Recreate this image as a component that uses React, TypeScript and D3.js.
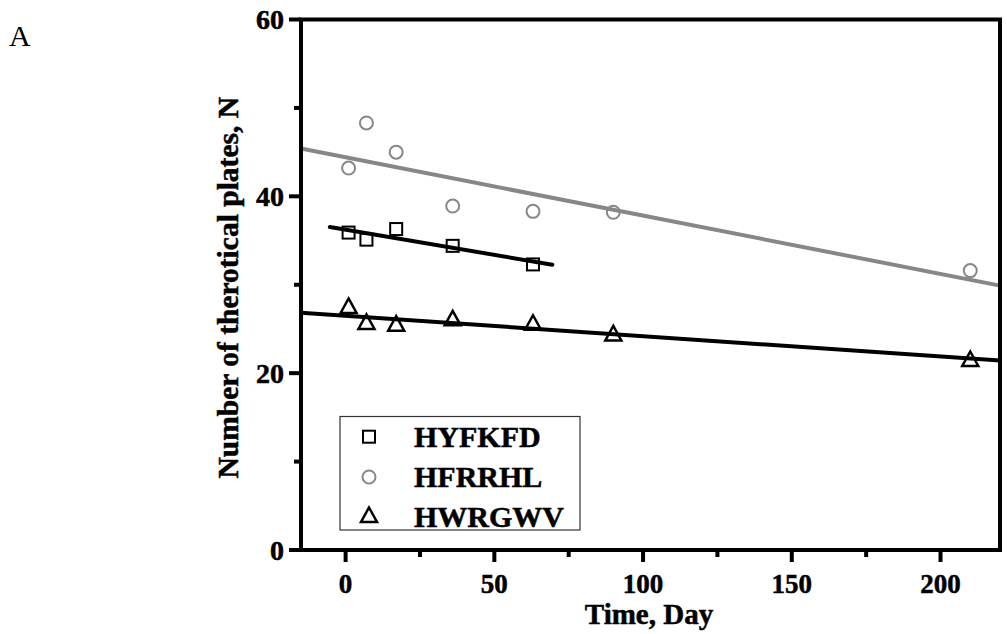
import React from "react";
import * as d3 from "d3";

// Data
const daysHYFKFD = [1, 7, 17, 36, 63];
const valuesHYFKFD = [35.9, 35.1, 36.3, 34.4, 32.3];
const daysHFRRHL = [1, 7, 17, 36, 63, 90, 210];
const valuesHFRRHL = [43.2, 48.3, 45.0, 38.9, 38.3, 38.2, 31.6];
const daysHWRGWV = [1, 7, 17, 36, 63, 90, 210];
const valuesHWRGWV = [27.6, 25.8, 25.6, 26.2, 25.7, 24.5, 21.6];

// Fitted trend lines (endpoints [day, value])
const fitHYFKFD: [number, number][] = [[-5.3, 36.54], [69.5, 32.27]];
const fitHFRRHL: [number, number][] = [[-15, 45.41], [220, 29.9]];
const fitHWRGWV: [number, number][] = [[-15, 26.83], [220, 21.43]];

const xTicks = [0, 50, 100, 150, 200];
const xMinorTicks = [25, 75, 125, 175];
const yTicks = [0, 20, 40, 60];
const yMinorTicks = [10, 30, 50];
const legendLabels = ["HYFKFD", "HFRRHL", "HWRGWV"];

const W = 1007;
const H = 634;
const L = 301, R = 1000, T = 19.5, B = 550;
const GRAY = "#878787";
const FONT = "'Liberation Serif', 'Times New Roman', serif";

export default function App() {
  const x = d3.scaleLinear().domain([-15, 220]).range([L, R]);
  const y = d3.scaleLinear().domain([0, 60]).range([B, T]);
  const line = d3.line<[number, number]>().x(d => x(d[0])).y(d => y(d[1]));

  const sq = (cx: number, cy: number, key: string) => (
    <rect key={key} x={cx - 6} y={cy - 6} width={12} height={12} fill="none" stroke="#000" strokeWidth={2} />
  );
  const ci = (cx: number, cy: number, key: string) => (
    <circle key={key} cx={cx} cy={cy} r={6.5} fill="none" stroke={GRAY} strokeWidth={2} />
  );
  const tri = (cx: number, cy: number, key: string) => (
    <path key={key} d={`M${cx},${cy - 8.5} L${cx + 8},${cy + 6} L${cx - 8},${cy + 6} Z`} fill="none" stroke="#000" strokeWidth={2.5} strokeLinejoin="miter" />
  );
  const bold = { fontWeight: "bold" as const, stroke: "#000", strokeWidth: 0.5 };

  return (
    <svg width={W} height={H} style={{ position: "absolute", left: 0, top: 0, background: "#fff" }} fontFamily={FONT}>
      <rect x={0} y={0} width={W} height={H} fill="#fff" />
      <text x={9} y={46} fontSize={30} fill="#000">A</text>

      {/* fit lines */}
      <path d={line(fitHFRRHL) || ""} fill="none" stroke={GRAY} strokeWidth={4} />
      <path d={line(fitHYFKFD) || ""} fill="none" stroke="#000" strokeWidth={4} strokeLinecap="round" />
      <path d={line(fitHWRGWV) || ""} fill="none" stroke="#000" strokeWidth={4} />

      {/* points */}
      {daysHFRRHL.map((d, i) => ci(x(d), y(valuesHFRRHL[i]), "c" + i))}
      {daysHYFKFD.map((d, i) => sq(x(d), y(valuesHYFKFD[i]), "s" + i))}
      {daysHWRGWV.map((d, i) => tri(x(d), y(valuesHWRGWV[i]) + 1, "t" + i))}

      {/* frame */}
      <rect x={L} y={T} width={R - L} height={B - T} fill="none" stroke="#000" strokeWidth={4} />

      {/* x ticks */}
      {xTicks.map(t => (
        <g key={"xt" + t}>
          <line x1={x(t)} x2={x(t)} y1={B} y2={B + 12} stroke="#000" strokeWidth={4} />
          <text x={x(t)} y={593} fontSize={27} {...bold} textAnchor="middle">{t}</text>
        </g>
      ))}
      {xMinorTicks.map(t => (
        <line key={"xm" + t} x1={x(t)} x2={x(t)} y1={B} y2={B + 7} stroke="#000" strokeWidth={4} />
      ))}
      {/* y ticks */}
      {yTicks.map(t => (
        <g key={"yt" + t}>
          <line x1={L} x2={L - 12} y1={y(t)} y2={y(t)} stroke="#000" strokeWidth={4} />
          <text x={284} y={y(t) + 9.5} fontSize={28} {...bold} textAnchor="end">{t}</text>
        </g>
      ))}
      {yMinorTicks.map(t => (
        <line key={"ym" + t} x1={L} x2={L - 7} y1={y(t)} y2={y(t)} stroke="#000" strokeWidth={4} />
      ))}

      {/* axis titles */}
      <text x={649} y={624} fontSize={29} {...bold} textAnchor="middle">Time, Day</text>
      <text transform={`translate(238,${(T + B) / 2 + 3}) rotate(-90)`} fontSize={29.5} {...bold} textAnchor="middle">Number of therotical plates, N</text>

      {/* legend */}
      <rect x={340} y={416.5} width={240} height={113.5} fill="#fff" stroke="#333" strokeWidth={1.2} />
      {sq(369, 436.7, "ls")}
      {ci(369, 477, "lc")}
      {tri(369, 516, "lt")}
      {legendLabels.map((lab, i) => (
        <text key={lab} x={414} y={447 + i * 40} fontSize={30} {...bold}>{lab}</text>
      ))}
    </svg>
  );
}
